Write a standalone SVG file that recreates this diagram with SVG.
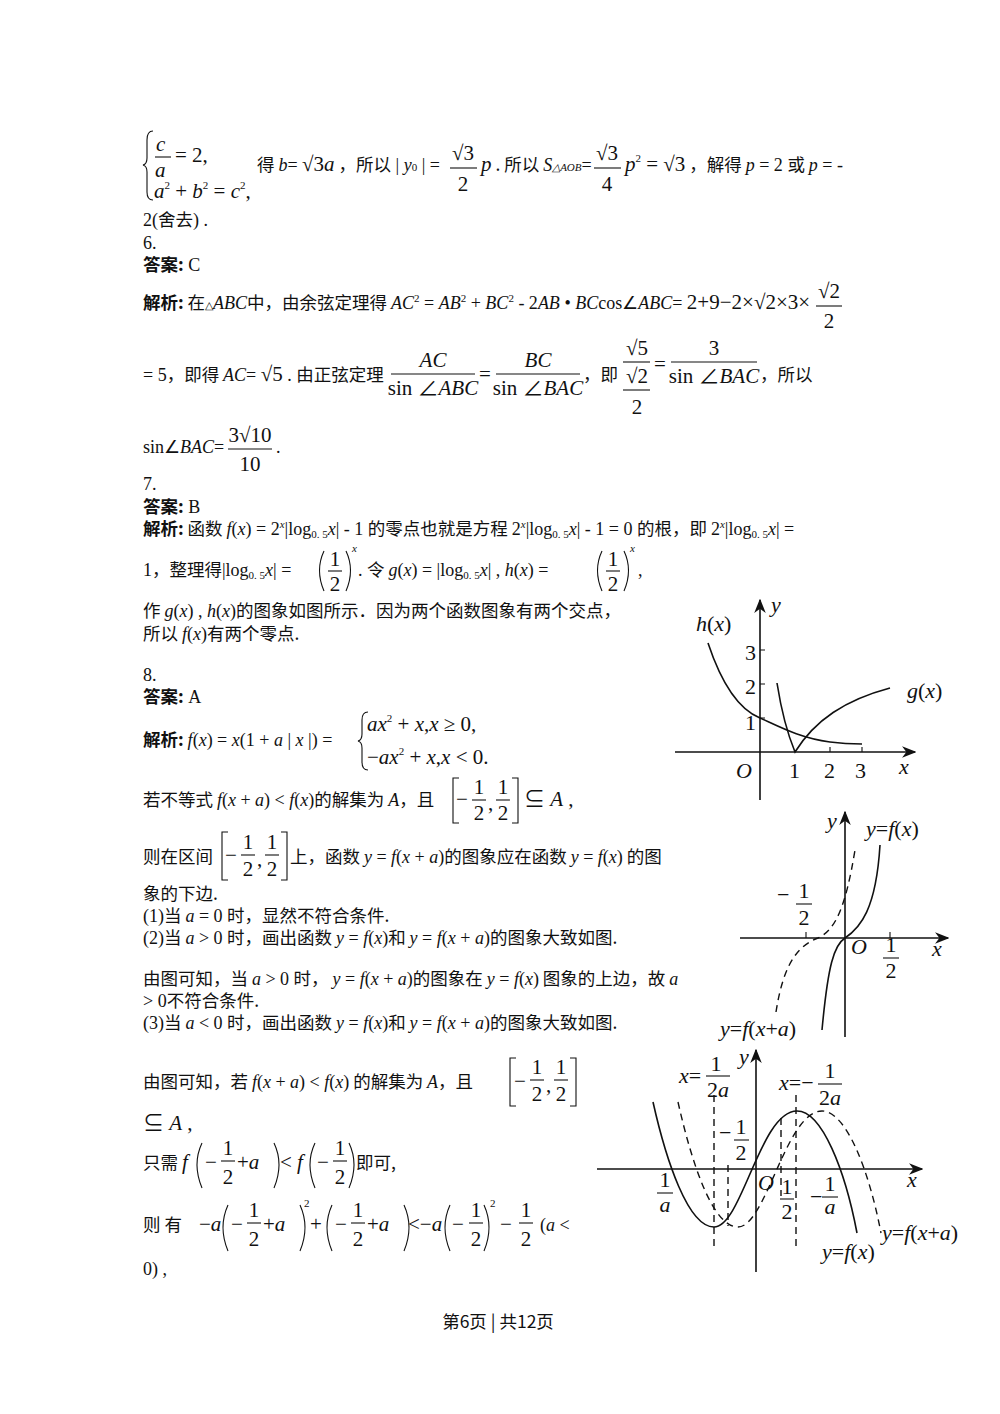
<svg xmlns="http://www.w3.org/2000/svg" width="1000" height="1414" viewBox="0 0 1000 1414">
<style>
text{font-family:"Noto Sans CJK SC","Liberation Serif",sans-serif;font-size:17.5px;fill:#111}
.m{font-family:"Liberation Serif","Noto Sans CJK SC",serif;font-size:21px}
.i{font-family:"Liberation Serif",serif;font-style:italic}
.s{font-family:"Liberation Serif",serif;font-size:18px}
.b{font-weight:bold}
.c{text-anchor:middle}
.sp{font-size:11px}
.ln{stroke:#111;stroke-width:1.1;fill:none}
.ax{stroke:#111;stroke-width:1.6;fill:none}
.cv{stroke:#111;stroke-width:1.6;fill:none}
.ds{stroke:#111;stroke-width:1.4;fill:none;stroke-dasharray:7 5}
.g{font-family:"Liberation Serif",serif;font-size:22px}
</style>
<defs><marker id="ar" viewBox="0 0 10 10" refX="9" refY="5" markerWidth="9" markerHeight="9" orient="auto"><path d="M0,1 L10,5 L0,9 L3,5z" fill="#111"/></marker></defs>
<rect width="1000" height="1414" fill="#fff"/>

<g id="text-block">
<path class="ln" d="M153,131 Q147,131 147,140 L147,158 Q147,164 143,165 Q147,166 147,172 L147,192 Q147,200 153,200"/>
<text class="m i" x="156" y="151">c</text><line class="ln" x1="155" y1="157" x2="171" y2="157"/>
<text class="m i" x="155" y="177">a</text><text class="m" x="175" y="162">= 2,</text>
<text class="m" x="154" y="198"><tspan class="i">a</tspan><tspan font-size="11" dy="-9">2</tspan><tspan dy="9"> + </tspan><tspan class="i">b</tspan><tspan font-size="11" dy="-9">2</tspan><tspan dy="9"> = </tspan><tspan class="i">c</tspan><tspan font-size="11" dy="-9">2</tspan><tspan dy="9">,</tspan></text>
<text x="257" y="171">得 <tspan class="s i">b</tspan><tspan class="s">= </tspan><tspan class="m">√3<tspan class="i">a</tspan></tspan> ，所以<tspan class="s"> | </tspan><tspan class="s i">y</tspan><tspan class="s sp">0</tspan><tspan class="s"> | =</tspan></text>
<text class="m c" x="463" y="160">√3</text><line class="ln" x1="450" y1="168" x2="477" y2="168"/><text class="m c" x="463" y="191">2</text>
<text x="481" y="171"><tspan class="m i">p</tspan> . 所以 <tspan class="s i">S</tspan><tspan class="s i sp">△AOB</tspan><tspan class="s">=</tspan></text>
<text class="m c" x="607" y="160">√3</text><line class="ln" x1="594" y1="168" x2="621" y2="168"/><text class="m c" x="607" y="191">4</text>
<text x="625" y="171"><tspan class="m i">p</tspan><tspan class="s sp" dy="-9">2</tspan><tspan class="m" dy="9"> = √3</tspan> ，解得 <tspan class="s i">p</tspan><tspan class="s"> = 2 </tspan>或 <tspan class="s i">p</tspan><tspan class="s"> = -</tspan></text>
<text x="143" y="226"><tspan class="s">2(</tspan>舍去<tspan class="s">) .</tspan></text>
<text class="s" x="143" y="249">6.</text>
<text x="143" y="271"><tspan class="b">答案:</tspan><tspan class="s"> C</tspan></text>

<text x="143" y="309"><tspan class="b">解析:</tspan> 在<tspan class="s sp">△</tspan><tspan class="s i">ABC</tspan>中，由余弦定理得 <tspan class="s i">AC</tspan><tspan class="s sp" dy="-7">2</tspan><tspan class="s" dy="7"> = </tspan><tspan class="s i">AB</tspan><tspan class="s sp" dy="-7">2</tspan><tspan class="s" dy="7"> + </tspan><tspan class="s i">BC</tspan><tspan class="s sp" dy="-7">2</tspan><tspan class="s" dy="7"> - 2</tspan><tspan class="s i">AB</tspan><tspan class="s"> • </tspan><tspan class="s i">BC</tspan><tspan class="s">cos∠</tspan><tspan class="s i">ABC</tspan><tspan class="s">= </tspan><tspan class="m">2+9−2×√2×3×</tspan></text>
<text class="m c" x="829" y="298">√2</text><line class="ln" x1="816" y1="306" x2="842" y2="306"/><text class="m c" x="829" y="328">2</text>

<text x="143" y="381"><tspan class="s">= 5</tspan>，即得 <tspan class="s i">AC</tspan><tspan class="s">= </tspan><tspan class="m">√5</tspan><tspan class="s"> . </tspan>由正弦定理</text>
<text class="m c i" x="433" y="367">AC</text><line class="ln" x1="391" y1="374" x2="475" y2="374"/><text class="m c" x="433" y="395">sin ∠<tspan class="i">ABC</tspan></text>
<text class="m" x="479" y="381">=</text>
<text class="m c i" x="538" y="367">BC</text><line class="ln" x1="496" y1="374" x2="580" y2="374"/><text class="m c" x="538" y="395">sin ∠<tspan class="i">BAC</tspan></text>
<text x="583" y="381">，即</text>
<text class="m c" x="637" y="355">√5</text><line class="ln" x1="623" y1="362" x2="650" y2="362"/><text class="m c" x="637" y="383">√2</text><line class="ln" x1="623" y1="390" x2="650" y2="390"/><text class="m c" x="637" y="414">2</text>
<text class="m" x="654" y="371">=</text>
<text class="m c" x="714" y="355">3</text><line class="ln" x1="671" y1="362" x2="757" y2="362"/><text class="m c" x="714" y="383">sin ∠<tspan class="i">BAC</tspan></text>
<text x="760" y="381">，所以</text>
<text x="143" y="453"><tspan class="s">sin∠</tspan><tspan class="s i">BAC</tspan><tspan class="s">=</tspan></text>
<text class="m c" x="250" y="442">3√10</text><line class="ln" x1="228" y1="449" x2="272" y2="449"/><text class="m c" x="250" y="471">10</text>
<text class="s" x="276" y="453">.</text>

<text class="s" x="143" y="490">7.</text>
<text x="143" y="513"><tspan class="b">答案:</tspan><tspan class="s"> B</tspan></text>
<text x="143" y="535"><tspan class="b">解析:</tspan> 函数 <tspan class="s i">f</tspan><tspan class="s">(</tspan><tspan class="s i">x</tspan><tspan class="s">) = 2</tspan><tspan class="s i sp" dy="-7">x</tspan><tspan class="s" dy="7">|log</tspan><tspan class="s sp" dy="3">0. 5</tspan><tspan class="s i" dy="-3">x</tspan><tspan class="s">| - 1 </tspan>的零点也就是方程 <tspan class="s">2</tspan><tspan class="s i sp" dy="-7">x</tspan><tspan class="s" dy="7">|log</tspan><tspan class="s sp" dy="3">0. 5</tspan><tspan class="s i" dy="-3">x</tspan><tspan class="s">| - 1 = 0 </tspan>的根，即 <tspan class="s">2</tspan><tspan class="s i sp" dy="-7">x</tspan><tspan class="s" dy="7">|log</tspan><tspan class="s sp" dy="3">0. 5</tspan><tspan class="s i" dy="-3">x</tspan><tspan class="s">| =</tspan></text>
<text x="143" y="576"><tspan class="s">1</tspan>，整理得<tspan class="s">|log</tspan><tspan class="s sp" dy="3">0. 5</tspan><tspan class="s i" dy="-3">x</tspan><tspan class="s">| =</tspan></text>
<path class="ln" d="M324,551 Q315,570 324,591"/><path class="ln" d="M346,551 Q355,570 346,591"/>
<text class="m c" x="335" y="566">1</text><line class="ln" x1="328" y1="571" x2="342" y2="571"/><text class="m c" x="335" y="591">2</text>
<text class="s i sp" x="352" y="552">x</text>
<text x="358" y="576"><tspan class="s">. </tspan>令 <tspan class="s i">g</tspan><tspan class="s">(</tspan><tspan class="s i">x</tspan><tspan class="s">) = |log</tspan><tspan class="s sp" dy="3">0. 5</tspan><tspan class="s i" dy="-3">x</tspan><tspan class="s">| ,  </tspan><tspan class="s i">h</tspan><tspan class="s">(</tspan><tspan class="s i">x</tspan><tspan class="s">) =</tspan></text>
<path class="ln" d="M602,551 Q593,570 602,591"/><path class="ln" d="M624,551 Q633,570 624,591"/>
<text class="m c" x="613" y="566">1</text><line class="ln" x1="606" y1="571" x2="620" y2="571"/><text class="m c" x="613" y="591">2</text>
<text class="s i sp" x="630" y="552">x</text><text class="s" x="638" y="576">,</text>
<text x="143" y="617">作 <tspan class="s i">g</tspan><tspan class="s">(</tspan><tspan class="s i">x</tspan><tspan class="s">) ,  </tspan><tspan class="s i">h</tspan><tspan class="s">(</tspan><tspan class="s i">x</tspan><tspan class="s">)</tspan>的图象如图所示．因为两个函数图象有两个交点，</text>
<text x="143" y="640">所以 <tspan class="s i">f</tspan><tspan class="s">(</tspan><tspan class="s i">x</tspan><tspan class="s">)</tspan>有两个零点.</text>

<text class="s" x="143" y="681">8.</text>
<text x="143" y="703"><tspan class="b">答案:</tspan><tspan class="s"> A</tspan></text>
<text x="143" y="746"><tspan class="b">解析:</tspan>  <tspan class="s i">f</tspan><tspan class="s">(</tspan><tspan class="s i">x</tspan><tspan class="s">) = </tspan><tspan class="s i">x</tspan><tspan class="s">(1 + </tspan><tspan class="s i">a</tspan><tspan class="s"> | </tspan><tspan class="s i">x</tspan><tspan class="s"> |) =</tspan></text>
<path class="ln" d="M368,712 Q362,712 362,720 L362,734 Q362,740 358,741 Q362,742 362,748 L362,762 Q362,770 368,770"/>
<text class="m" x="367" y="731"><tspan class="i">ax</tspan><tspan font-size="11" dy="-9">2</tspan><tspan dy="9"> + </tspan><tspan class="i">x</tspan>,<tspan class="i">x</tspan> ≥ 0,</text>
<text class="m" x="367" y="764">−<tspan class="i">ax</tspan><tspan font-size="11" dy="-9">2</tspan><tspan dy="9"> + </tspan><tspan class="i">x</tspan>,<tspan class="i">x</tspan> &lt; 0.</text>

<text x="143" y="806">若不等式 <tspan class="s i">f</tspan><tspan class="s">(</tspan><tspan class="s i">x</tspan><tspan class="s"> + </tspan><tspan class="s i">a</tspan><tspan class="s">) &lt; </tspan><tspan class="s i">f</tspan><tspan class="s">(</tspan><tspan class="s i">x</tspan><tspan class="s">)</tspan>的解集为 <tspan class="s i">A</tspan>，且</text>
<path class="ln" d="M459,778 L453,778 L453,823 L459,823"/><path class="ln" d="M512,778 L518,778 L518,823 L512,823"/>
<text class="m" x="456" y="806">−</text><text class="m c" x="479" y="794">1</text><line class="ln" x1="472" y1="800" x2="486" y2="800"/><text class="m c" x="479" y="820">2</text>
<text class="m" x="488" y="810">,</text><text class="m c" x="503" y="794">1</text><line class="ln" x1="496" y1="800" x2="510" y2="800"/><text class="m c" x="503" y="820">2</text>
<text class="m" x="524" y="806">⊆ <tspan class="i">A</tspan> ,</text>

<text x="143" y="863">则在区间</text>
<path class="ln" d="M228,832 L222,832 L222,880 L228,880"/><path class="ln" d="M281,832 L287,832 L287,880 L281,880"/>
<text class="m" x="225" y="862">−</text><text class="m c" x="248" y="849">1</text><line class="ln" x1="241" y1="855" x2="255" y2="855"/><text class="m c" x="248" y="876">2</text>
<text class="m" x="257" y="866">,</text><text class="m c" x="272" y="849">1</text><line class="ln" x1="265" y1="855" x2="279" y2="855"/><text class="m c" x="272" y="876">2</text>
<text x="290" y="863">上，函数 <tspan class="s i">y</tspan><tspan class="s"> = </tspan><tspan class="s i">f</tspan><tspan class="s">(</tspan><tspan class="s i">x</tspan><tspan class="s"> + </tspan><tspan class="s i">a</tspan><tspan class="s">)</tspan>的图象应在函数 <tspan class="s i">y</tspan><tspan class="s"> = </tspan><tspan class="s i">f</tspan><tspan class="s">(</tspan><tspan class="s i">x</tspan><tspan class="s">)</tspan> 的图</text>
<text x="143" y="900">象的下边.</text>
<text x="143" y="922"><tspan class="s">(1)</tspan>当 <tspan class="s i">a</tspan><tspan class="s"> = 0 </tspan>时，显然不符合条件.</text>
<text x="143" y="944"><tspan class="s">(2)</tspan>当 <tspan class="s i">a</tspan><tspan class="s"> &gt; 0 </tspan>时，画出函数 <tspan class="s i">y</tspan><tspan class="s"> = </tspan><tspan class="s i">f</tspan><tspan class="s">(</tspan><tspan class="s i">x</tspan><tspan class="s">)</tspan>和 <tspan class="s i">y</tspan><tspan class="s"> = </tspan><tspan class="s i">f</tspan><tspan class="s">(</tspan><tspan class="s i">x</tspan><tspan class="s"> + </tspan><tspan class="s i">a</tspan><tspan class="s">)</tspan>的图象大致如图.</text>
<text x="143" y="985">由图可知，当 <tspan class="s i">a</tspan><tspan class="s"> &gt; 0 </tspan>时， <tspan class="s i">y</tspan><tspan class="s"> = </tspan><tspan class="s i">f</tspan><tspan class="s">(</tspan><tspan class="s i">x</tspan><tspan class="s"> + </tspan><tspan class="s i">a</tspan><tspan class="s">)</tspan>的图象在 <tspan class="s i">y</tspan><tspan class="s"> = </tspan><tspan class="s i">f</tspan><tspan class="s">(</tspan><tspan class="s i">x</tspan><tspan class="s">)</tspan> 图象的上边，故 <tspan class="s i">a</tspan></text>
<text x="143" y="1007"><tspan class="s">&gt; 0</tspan>不符合条件.</text>
<text x="143" y="1029"><tspan class="s">(3)</tspan>当 <tspan class="s i">a</tspan><tspan class="s"> &lt; 0 </tspan>时，画出函数 <tspan class="s i">y</tspan><tspan class="s"> = </tspan><tspan class="s i">f</tspan><tspan class="s">(</tspan><tspan class="s i">x</tspan><tspan class="s">)</tspan>和 <tspan class="s i">y</tspan><tspan class="s"> = </tspan><tspan class="s i">f</tspan><tspan class="s">(</tspan><tspan class="s i">x</tspan><tspan class="s"> + </tspan><tspan class="s i">a</tspan><tspan class="s">)</tspan>的图象大致如图.</text>

<text x="143" y="1088">由图可知，若 <tspan class="s i">f</tspan><tspan class="s">(</tspan><tspan class="s i">x</tspan><tspan class="s"> + </tspan><tspan class="s i">a</tspan><tspan class="s">)  &lt;  </tspan><tspan class="s i">f</tspan><tspan class="s">(</tspan><tspan class="s i">x</tspan><tspan class="s">)</tspan> 的解集为 <tspan class="s i">A</tspan>，且</text>
<path class="ln" d="M516,1058 L510,1058 L510,1106 L516,1106"/><path class="ln" d="M570,1058 L576,1058 L576,1106 L570,1106"/>
<text class="m" x="514" y="1088">−</text><text class="m c" x="537" y="1074">1</text><line class="ln" x1="530" y1="1080" x2="544" y2="1080"/><text class="m c" x="537" y="1101">2</text>
<text class="m" x="546" y="1092">,</text><text class="m c" x="561" y="1074">1</text><line class="ln" x1="554" y1="1080" x2="568" y2="1080"/><text class="m c" x="561" y="1101">2</text>
<text class="m" x="143" y="1130">⊆ <tspan class="i">A</tspan> ,</text>

<text x="143" y="1169">只需</text><text class="m i" x="182" y="1169">f</text>
<path class="ln" d="M202,1143 Q192,1164 202,1188"/><path class="ln" d="M274,1143 Q284,1164 274,1188"/>
<text class="m" x="205" y="1169">−</text><text class="m c" x="228" y="1155">1</text><line class="ln" x1="221" y1="1161" x2="235" y2="1161"/><text class="m c" x="228" y="1184">2</text>
<text class="m" x="237" y="1169">+<tspan class="i">a</tspan></text>
<text class="m" x="280" y="1169">&lt; <tspan class="i">f</tspan></text>
<path class="ln" d="M315,1143 Q305,1164 315,1188"/><path class="ln" d="M349,1143 Q359,1164 349,1188"/>
<text class="m" x="317" y="1169">−</text><text class="m c" x="340" y="1155">1</text><line class="ln" x1="333" y1="1161" x2="347" y2="1161"/><text class="m c" x="340" y="1184">2</text>
<text x="356" y="1169">即可,</text>

<text x="143" y="1231">则 有</text>
<text class="m" x="199" y="1231">−<tspan class="i">a</tspan></text>
<path class="ln" d="M228,1205 Q218,1227 228,1251"/><path class="ln" d="M300,1205 Q310,1227 300,1251"/>
<text class="m" x="231" y="1231">−</text><text class="m c" x="254" y="1217">1</text><line class="ln" x1="247" y1="1223" x2="261" y2="1223"/><text class="m c" x="254" y="1246">2</text>
<text class="m" x="263" y="1231">+<tspan class="i">a</tspan></text>
<text class="s sp" x="304" y="1207">2</text>
<text class="m" x="310" y="1231">+</text>
<path class="ln" d="M332,1205 Q322,1227 332,1251"/><path class="ln" d="M404,1205 Q414,1227 404,1251"/>
<text class="m" x="335" y="1231">−</text><text class="m c" x="358" y="1217">1</text><line class="ln" x1="351" y1="1223" x2="365" y2="1223"/><text class="m c" x="358" y="1246">2</text>
<text class="m" x="367" y="1231">+<tspan class="i">a</tspan></text>
<text class="m" x="408" y="1231">&lt;−<tspan class="i">a</tspan></text>
<path class="ln" d="M450,1205 Q440,1227 450,1251"/><path class="ln" d="M484,1205 Q494,1227 484,1251"/>
<text class="m" x="452" y="1231">−</text><text class="m c" x="476" y="1217">1</text><line class="ln" x1="469" y1="1223" x2="483" y2="1223"/><text class="m c" x="476" y="1246">2</text>
<text class="s sp" x="490" y="1207">2</text>
<text class="m" x="500" y="1231">−</text><text class="m c" x="526" y="1217">1</text><line class="ln" x1="519" y1="1223" x2="533" y2="1223"/><text class="m c" x="526" y="1246">2</text>
<text class="s" x="540" y="1231">(<tspan class="i">a</tspan>     &lt;</text>
<text class="s" x="143" y="1275">0) ,</text>

<text x="498" y="1328" class="c" font-family="Liberation Serif,Noto Sans CJK SC,serif">第6页 | 共12页</text>
</g>

<g id="graph1">
<line class="ax" x1="675" y1="752" x2="915" y2="752" marker-end="url(#ar)"/>
<line class="ax" x1="760" y1="800" x2="760" y2="600" marker-end="url(#ar)"/>
<path class="ln" d="M760,718h5M760,684h5M760,650h5M830,752v-5M862,752v-5"/>
<path class="cv" d="M708,643 C722,685 740,710 760,718 C780,727 800,738 830,742 C845,744 855,744 862,744"/>
<path class="cv" d="M777,683 C782,715 788,735 795,752 C815,720 845,700 890,688"/>
<text class="g i" x="696" y="631">h</text><text class="g" x="707" y="631">(<tspan class="i">x</tspan>)</text>
<text class="g i" x="771" y="612">y</text>
<text class="g" x="745" y="660">3</text><text class="g" x="745" y="694">2</text><text class="g" x="745" y="730">1</text>
<text class="g i" x="907" y="698">g</text><text class="g" x="918" y="698">(<tspan class="i">x</tspan>)</text>
<text class="g i" x="736" y="778">O</text><text class="g" x="789" y="778">1</text><text class="g" x="824" y="778">2</text><text class="g" x="855" y="778">3</text>
<text class="g i" x="899" y="774">x</text>
</g>

<g id="graph2">
<line class="ax" x1="740" y1="938" x2="948" y2="938" marker-end="url(#ar)"/>
<line class="ax" x1="845" y1="1037" x2="845" y2="812" marker-end="url(#ar)"/>
<path class="ln" d="M890,938v-6M806,938v-6"/>
<path class="cv" d="M822,1030 C828,965 834,945 845,938 C860,928 876,910 880,845"/>
<path class="ds" d="M776,1012 C784,960 800,945 818,938 C836,930 846,905 855,850"/>
<text class="g i" x="827" y="828">y</text>
<text class="g" x="866" y="836"><tspan class="i">y</tspan>=<tspan class="i">f</tspan>(<tspan class="i">x</tspan>)</text>
<text class="g" x="777" y="902">−</text><text class="g c" x="804" y="898">1</text><line class="ln" x1="796" y1="904" x2="812" y2="904"/><text class="g c" x="804" y="925">2</text>
<text class="g i" x="851" y="954">O</text>
<text class="g c" x="891" y="952">1</text><line class="ln" x1="883" y1="958" x2="899" y2="958"/><text class="g c" x="891" y="978">2</text>
<text class="g i" x="932" y="956">x</text>
<text class="g" x="720" y="1036"><tspan class="i">y</tspan>=<tspan class="i">f</tspan>(<tspan class="i">x</tspan>+<tspan class="i">a</tspan>)</text>
</g>

<g id="graph3">
<line class="ax" x1="597" y1="1169" x2="922" y2="1169" marker-end="url(#ar)"/>
<line class="ax" x1="756" y1="1272" x2="756" y2="1050" marker-end="url(#ar)"/>
<path class="cv" d="M653,1102 C666,1160 688,1227 714,1227 C742,1227 760,1111 797,1111 C822,1111 845,1170 857,1233"/>
<path class="ds" d="M678,1102 C691,1160 712,1227 738,1227 C766,1227 786,1111 822,1111 C846,1111 869,1170 881,1233"/>
<path class="ds" d="M714,1095V1246M796,1095V1246M728,1165V1226M781,1118V1196"/>
<text class="g" x="679" y="1083"><tspan class="i">x</tspan>=</text>
<text class="g c" x="716" y="1071">1</text><line class="ln" x1="706" y1="1076" x2="730" y2="1076"/><text class="g c" x="718" y="1097">2<tspan class="i">a</tspan></text>
<text class="g i" x="739" y="1064">y</text>
<text class="g" x="779" y="1090"><tspan class="i">x</tspan>=−</text>
<text class="g c" x="830" y="1078">1</text><line class="ln" x1="818" y1="1084" x2="842" y2="1084"/><text class="g c" x="830" y="1105">2<tspan class="i">a</tspan></text>
<text class="g" x="719" y="1140">−</text><text class="g c" x="741" y="1134">1</text><line class="ln" x1="734" y1="1140" x2="749" y2="1140"/><text class="g c" x="741" y="1160">2</text>
<text class="g c" x="665" y="1187">1</text><line class="ln" x1="657" y1="1193" x2="673" y2="1193"/><text class="g c i" x="665" y="1212">a</text>
<text class="g i" x="758" y="1190">O</text>
<text class="g c" x="787" y="1194">1</text><line class="ln" x1="780" y1="1199" x2="794" y2="1199"/><text class="g c" x="787" y="1219">2</text>
<text class="g" x="810" y="1204">−</text><text class="g c" x="830" y="1191">1</text><line class="ln" x1="822" y1="1197" x2="838" y2="1197"/><text class="g c i" x="830" y="1214">a</text>
<text class="g i" x="907" y="1187">x</text>
<text class="g" x="822" y="1259"><tspan class="i">y</tspan>=<tspan class="i">f</tspan>(<tspan class="i">x</tspan>)</text>
<text class="g" x="882" y="1240"><tspan class="i">y</tspan>=<tspan class="i">f</tspan>(<tspan class="i">x</tspan>+<tspan class="i">a</tspan>)</text>
</g>
</svg>
